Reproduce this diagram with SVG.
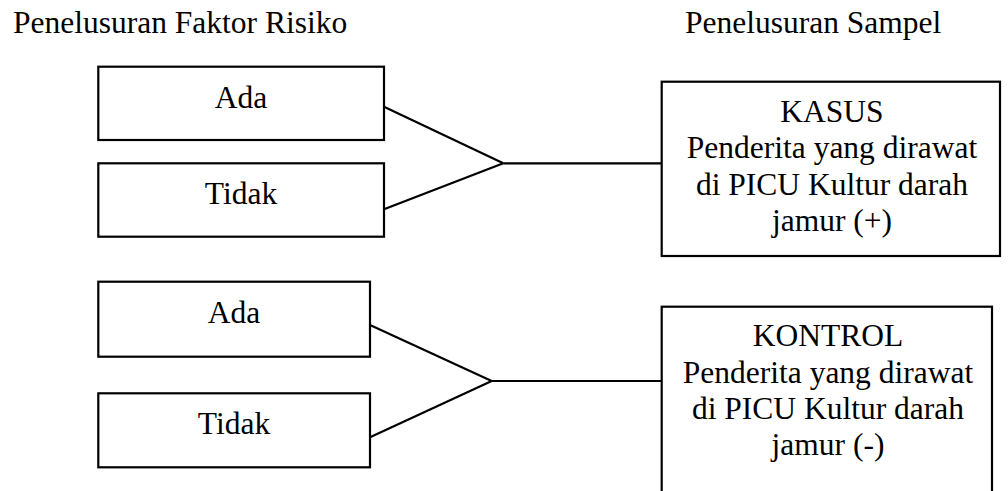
<svg xmlns="http://www.w3.org/2000/svg" width="1008" height="491" viewBox="0 0 1008 491">
<style>
text{font-family:"Liberation Serif","Times New Roman",serif;font-size:31.5px;fill:#000}
.c{text-anchor:middle}
rect{fill:#fff;stroke:#000;stroke-width:2.2}
.conn line{stroke:#000;stroke-width:2.2;stroke-linecap:butt}
</style>
<rect x="0" y="0" width="1008" height="491" style="fill:#fff;stroke:none"/>
<g id="title-left"><text x="13" y="33">Penelusuran Faktor Risiko</text></g>
<g id="title-right"><text x="685" y="33">Penelusuran Sampel</text></g>
<g class="conn" id="connectors">
<line x1="384" y1="106.7" x2="503.3" y2="163.3"/>
<line x1="384" y1="209.3" x2="503.3" y2="163.3"/>
<line x1="503.3" y1="163.3" x2="661.7" y2="163.3"/>
<line x1="370" y1="325" x2="491.7" y2="381"/>
<line x1="370" y1="437.3" x2="491.7" y2="381"/>
<line x1="491.7" y1="381" x2="661.7" y2="381"/>
</g>
<g id="ada1"><rect x="98.3" y="66.7" width="285.7" height="73.3"/><text class="c" x="241" y="108.3">Ada</text></g>
<g id="tidak1"><rect x="98.3" y="163.3" width="285.7" height="73.4"/><text class="c" x="241" y="204.3">Tidak</text></g>
<g id="ada2"><rect x="98.3" y="281.7" width="271.7" height="75"/><text class="c" x="234" y="323.3">Ada</text></g>
<g id="tidak2"><rect x="98.3" y="393.3" width="271.7" height="74"/><text class="c" x="234" y="434">Tidak</text></g>
<g id="kasus"><rect x="661.7" y="81.7" width="338.3" height="174.3"/>
<text class="c" x="832" y="121.5">KASUS</text>
<text class="c" x="832" y="158">Penderita yang dirawat</text>
<text class="c" x="832" y="194.5">di PICU Kultur darah</text>
<text class="c" x="832" y="231">jamur (+)</text></g>
<g id="kontrol"><rect x="661.7" y="306.7" width="330.3" height="200"/>
<text class="c" x="828" y="346">KONTROL</text>
<text class="c" x="828" y="382.7">Penderita yang dirawat</text>
<text class="c" x="828" y="419.3">di PICU Kultur darah</text>
<text class="c" x="828" y="455">jamur (-)</text></g>
</svg>
